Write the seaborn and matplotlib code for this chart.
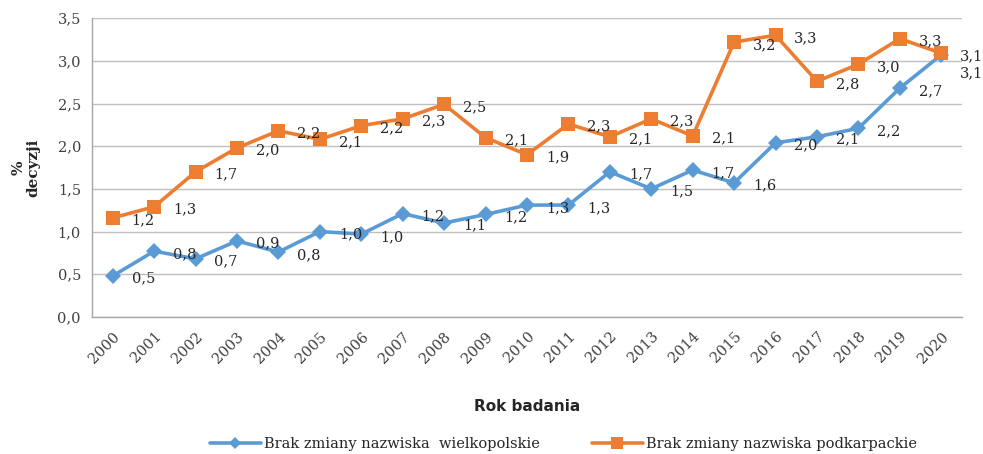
import numpy as np
import pandas as pd
import seaborn as sns
import matplotlib.pyplot as plt
from matplotlib.ticker import FixedLocator

years = list(range(2000, 2021))
wielkopolskie = [0.48, 0.77, 0.68, 0.89, 0.76, 1.00, 0.97, 1.21, 1.10, 1.20, 1.31,
                 1.31, 1.70, 1.50, 1.72, 1.57, 2.04, 2.11, 2.21, 2.68, 3.07]
podkarpackie = [1.16, 1.29, 1.70, 1.98, 2.18, 2.08, 2.24, 2.32, 2.49, 2.10, 1.90,
                2.26, 2.11, 2.32, 2.12, 3.22, 3.30, 2.76, 2.96, 3.26, 3.09]
series_names = ["Brak zmiany nazwiska  wielkopolskie", "Brak zmiany nazwiska podkarpackie"]
colors = ["#5B9BD5", "#ED7D31"]
markers = ["D", "s"]

df = pd.DataFrame({
    "Rok": years * 2,
    "Wartosc": wielkopolskie + podkarpackie,
    "Seria": [series_names[0]] * len(years) + [series_names[1]] * len(years),
})

sns.set_style("white")
plt.rcParams["font.family"] = ["DejaVu Serif"]
SERIF = "DejaVu Serif"

fig = plt.figure(figsize=(9.83, 4.54), dpi=100)
ax = fig.add_axes([0.0936, 0.302, 0.885, 0.658])

sns.lineplot(data=df, x="Rok", y="Wartosc", hue="Seria", style="Seria",
             palette=colors, markers=markers, dashes=False, linewidth=2.6,
             markersize=8, markeredgewidth=0, ax=ax, legend=False)
# bigger squares for the orange series
ax.lines[1].set_markersize(9.5)

# data labels (to the right of each point)
for vals in (wielkopolskie, podkarpackie):
    for x, v in zip(years, vals):
        off = -2
        if vals is wielkopolskie and x == 2020:
            off = -13
        ax.annotate(f"{v:.1f}".replace(".", ","), (x, v), xytext=(22, off),
                    textcoords="offset points", ha="center", va="center",
                    fontsize=10.5, color="#262626", family=SERIF)

ax.set_xlim(1999.5, 2020.5)
ax.set_ylim(0, 3.5)
yt = np.arange(0, 3.51, 0.5)
ax.set_yticks(yt)
ax.set_yticklabels([f"{t:.1f}".replace(".", ",") for t in yt],
                   fontsize=10.5, color="#404040", family=SERIF)
ax.set_xticks(years)
ax.set_xticklabels([str(y) for y in years], rotation=45, ha="right",
                   rotation_mode="anchor", fontsize=10.5, color="#404040", family=SERIF)
ax.xaxis.set_minor_locator(FixedLocator(np.arange(1999.5, 2021, 1)))
ax.tick_params(axis="x", which="major", length=0, pad=9)
ax.tick_params(axis="x", which="minor", length=5, color="#A6A6A6", width=1)
ax.tick_params(axis="y", which="major", length=5, color="#A6A6A6", width=1, pad=3)

ax.grid(axis="y", color="#BFBFBF", linewidth=1)
ax.set_axisbelow(True)
for s in ["top", "right"]:
    ax.spines[s].set_visible(False)
for s in ["left", "bottom"]:
    ax.spines[s].set_color("#A6A6A6")
    ax.spines[s].set_linewidth(1)

ax.set_xlabel("Rok badania", fontsize=11, fontweight="bold", family="DejaVu Sans",
              labelpad=24, color="#262626")
ax.set_ylabel("%\ndecyzji", fontsize=11, fontweight="bold", labelpad=12,
              linespacing=1.1, family=SERIF, color="#262626")

handles = [plt.Line2D([], [], color=c, marker=m, linewidth=2.6,
                      markersize=6 if m == "D" else 8, markeredgewidth=0)
           for c, m in zip(colors, markers)]
fig.legend(handles, series_names, loc="center", bbox_to_anchor=(0.573, 0.022),
           ncol=2, frameon=False, fontsize=10.5, handlelength=3.5,
           columnspacing=3.6, handletextpad=0.2,
           prop={"family": SERIF, "size": 10.5})

fig.savefig("out.png", dpi=100)
